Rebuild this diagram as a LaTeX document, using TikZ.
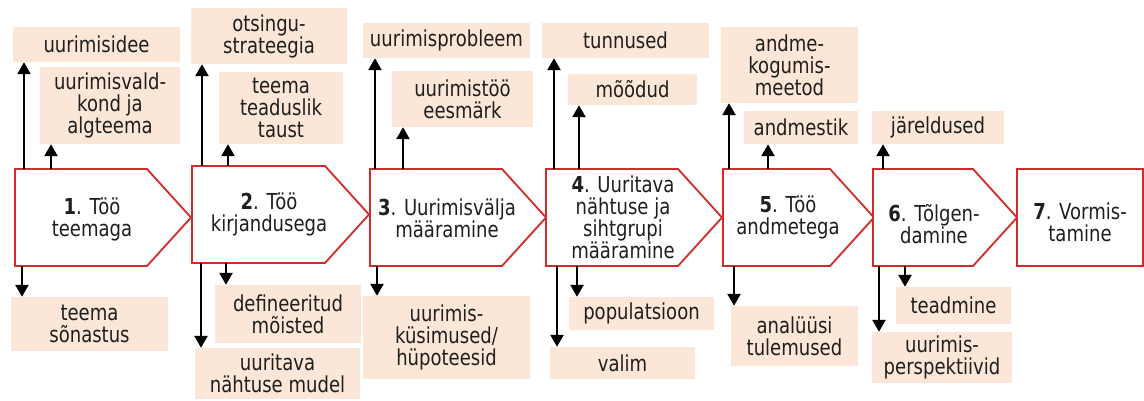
\documentclass[tikz,border=0pt]{standalone}
\usepackage{fontspec}
\setmainfont{DejaVu Sans}[FakeStretch=0.82]
\usetikzlibrary{arrows.meta,calc}
\definecolor{peach}{HTML}{FCE6D8}
\definecolor{chred}{HTML}{D42A2A}
\newcommand\pb[6]{\node[pbox, minimum width={#4-#2}, minimum height={#5-#3}] (#1) at ({(#2+#4)/2},{(#3+#5)/2}) {#6};}
\newcommand\stp[5]{\node[minimum width={#3-#2}, minimum height={#5-#4}, inner sep=0pt, outer sep=0pt] (#1) at ({(#2+#3)/2},{(#4+#5)/2}) {};
  \draw[chev] (#1.north west) -- (#1.north east) -- ($(#1.east)+(44,0)$) -- (#1.south east) -- (#1.south west) -- cycle;}
\newcommand\uparr[3]{\draw[arr] (#1.north -| #3,0) -- (#2.south -| #3,0);}
\newcommand\dnarr[3]{\draw[arr] (#1.south -| #3,0) -- (#2.north -| #3,0);}
\begin{document}
\begin{tikzpicture}[x=1pt,y=-1pt,
  every node/.style={font=\fontsize{22}{22}\selectfont, text=black!88},
  pbox/.style={fill=peach, inner sep=0pt, align=center},
  chev/.style={draw=chred, line width=1.8pt, fill=white, line join=miter},
  stxt/.style={align=center, inner sep=0pt},
  arr/.style={line width=2.5pt, -{Triangle[width=13pt,length=12pt]}},
]
\useasboundingbox (0,0) rectangle (1144,400);

% steps
\stp{s1}{15}{147}{169}{266}
\stp{s2}{192}{325}{166}{263}
\stp{s3}{370}{502}{169}{266}
\stp{s4}{546}{678}{169}{266}
\stp{s5}{723}{830}{169}{266}
\stp{s6}{873}{973}{169}{266}
\node[draw=chred, line width=1.8pt, fill=white, minimum width=126pt, minimum height=97pt, inner sep=0pt] (s7) at (1080,217.5) {};

\node[stxt] (t1) at (92,219) {\textbf{1}. Töö\\teemaga};
\node[stxt] (t2) at (269,214) {\textbf{2}. Töö\\kirjandusega};
\node[stxt] (t3) at (447,218) {\textbf{3}. Uurimisvälja\\määramine};
\node[stxt] (t4) at (623,217) {\textbf{4}. Uuritava\\nähtuse ja\\sihtgrupi\\määramine};
\node[stxt] (t5) at (788,217) {\textbf{5}. Töö\\andmetega};
\node[stxt] (t6) at (934,224) {\textbf{6}. Tõlgen-\\damine};
\node[stxt] (t7) at (1080,222) {\textbf{7}. Vormis-\\tamine};

% boxes
\pb{b11}{13}{27}{180}{62}{uurimisidee}
\pb{b12}{40}{67}{180}{144}{uurimisvald-\\kond ja\\algteema}
\pb{b13}{11}{297}{168}{351}{teema\\sõnastus}
\pb{b21}{191}{8}{347}{64}{otsingu-\\strateegia}
\pb{b22}{219}{72}{343}{144}{teema\\teaduslik\\taust}
\pb{b23}{215}{285}{361}{343}{defineeritud\\mõisted}
\pb{b24}{195}{348}{360}{399}{uuritava\\nähtuse mudel}
\pb{b31}{363}{23}{530}{58}{uurimisprobleem}
\pb{b32}{392}{71}{533}{127}{uurimistöö\\eesmärk}
\pb{b33}{363}{296}{530}{379}{uurimis-\\küsimused/\\hüpoteesid}
\pb{b41}{542}{23}{709}{58}{tunnused}
\pb{b42}{568}{74}{697}{105}{mõõdud}
\pb{b43}{569}{297}{714}{330}{populatsioon}
\pb{b44}{550}{347}{695}{379}{valim}
\pb{b51}{721}{27}{858}{103}{andme-\\kogumis-\\meetod}
\pb{b52}{744}{111}{858}{144}{andmestik}
\pb{b53}{731}{306}{858}{366}{analüüsi\\tulemused}
\pb{b61}{872}{111}{1004}{144}{järeldused}
\pb{b62}{896}{287}{1011}{324}{teadmine}
\pb{b63}{872}{332}{1012}{383}{uurimis-\\perspektiivid}

% arrows
\uparr{s1}{b11}{24}
\uparr{s1}{b12}{51}
\dnarr{s1}{b13}{22}
\uparr{s2}{b21}{202}
\uparr{s2}{b22}{228}
\dnarr{s2}{b23}{226}
\dnarr{s2}{b24}{201}
\uparr{s3}{b31}{375}
\uparr{s3}{b32}{403}
\dnarr{s3}{b33}{377}
\uparr{s4}{b41}{554}
\uparr{s4}{b42}{579}
\dnarr{s4}{b43}{577}
\dnarr{s4}{b44}{557}
\uparr{s5}{b51}{729}
\uparr{s5}{b52}{768}
\dnarr{s5}{b53}{734}
\uparr{s6}{b61}{883}
\dnarr{s6}{b62}{905}
\dnarr{s6}{b63}{879}
\end{tikzpicture}
\end{document}
